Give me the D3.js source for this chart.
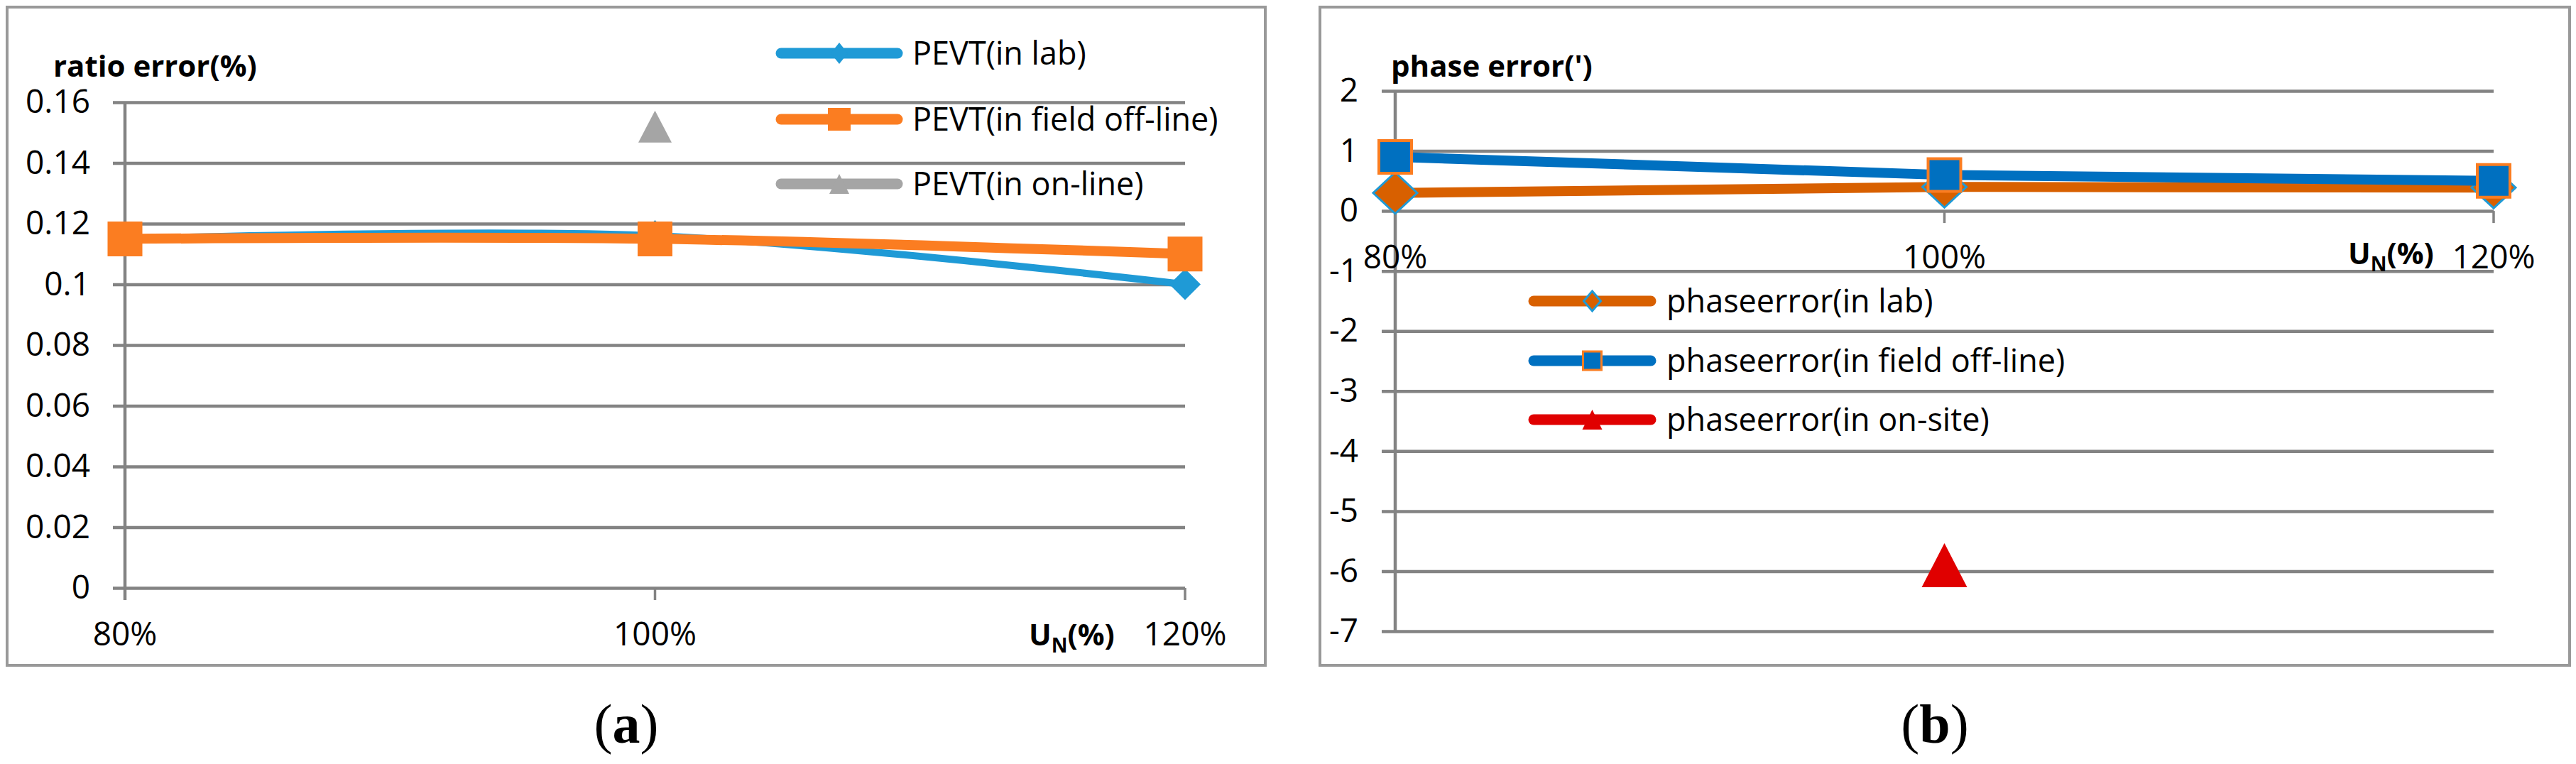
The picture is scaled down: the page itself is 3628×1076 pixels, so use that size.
<!DOCTYPE html>
<html>
<head>
<meta charset="utf-8">
<script src="https://cdn.jsdelivr.net/npm/d3@7"></script>
<style>
  body { margin: 0; background: #fff; }
  text { font-family: "Open Sans", sans-serif; fill: #000; }
</style>
</head>
<body>
<svg id="chart" width="3628" height="1076"></svg>
<script>
// values
var categories = ["80%", "100%", "120%"];

var ratioTicks = [0, 0.02, 0.04, 0.06, 0.08, 0.1, 0.12, 0.14, 0.16];
var ratioLab = [0.115, 0.116, 0.100];
var ratioFieldOffline = [0.115, 0.115, 0.110];
var ratioOnline = [null, 0.152, null];
var ratioNames = ["PEVT(in lab)", "PEVT(in field off-line)", "PEVT(in on-line)"];

var phaseTicks = [2, 1, 0, -1, -2, -3, -4, -5, -6, -7];
var phaseLab = [0.3, 0.4, 0.39];
var phaseFieldOffline = [0.9, 0.6, 0.5];
var phaseOnsite = [null, -5.9, null];
var phaseNames = ["phaseerror(in lab)", "phaseerror(in field off-line)", "phaseerror(in on-site)"];

var svg = d3.select("#chart");
var gridColor = "#838383";

// marker paths, centred on (cx, cy)
function markerPath(type, cx, cy, w, h) {
  if (type == "diamond") {
    return "M" + cx + "," + (cy - h / 2) + "L" + (cx + w / 2) + "," + cy +
      "L" + cx + "," + (cy + h / 2) + "L" + (cx - w / 2) + "," + cy + "Z";
  }
  if (type == "triangle") {
    return "M" + cx + "," + (cy - h / 2) + "L" + (cx + w / 2) + "," + (cy + h / 2) +
      "L" + (cx - w / 2) + "," + (cy + h / 2) + "Z";
  }
  return "M" + (cx - w / 2) + "," + (cy - h / 2) + "h" + w + "v" + h + "h" + (-w) + "Z";
}

function drawPanel(p) {
  var g = svg.append("g");

  // outer frame
  g.append("rect")
    .attr("x", p.frame[0]).attr("y", p.frame[1])
    .attr("width", p.frame[2] - p.frame[0]).attr("height", p.frame[3] - p.frame[1])
    .attr("fill", "none").attr("stroke", "#999").attr("stroke-width", 4);

  var x = d3.scalePoint().domain(categories).range(p.xRange);
  var y = d3.scaleLinear().domain(p.yDomain).range(p.yRange);

  // horizontal gridlines + tick labels
  var yAxis = d3.axisLeft(y)
    .tickValues(p.ticks)
    .tickFormat(function(d) { return String(d); })
    .tickSize(-(p.xRange[1] - p.gridStart))
    .tickPadding(p.gridStart - p.labelRight);
  var ga = g.append("g")
    .attr("transform", "translate(" + p.gridStart + ",0)")
    .call(yAxis);
  ga.select(".domain").remove();
  ga.selectAll(".tick line").attr("stroke", gridColor).attr("stroke-width", 4.5);
  ga.selectAll(".tick text")
    .attr("x", -(p.gridStart - p.labelRight))
    .attr("font-size", 46).attr("font-family", "Open Sans").attr("fill", "#000");

  // vertical axis line
  var y0 = y(0);
  g.append("line")
    .attr("x1", p.xRange[0]).attr("x2", p.xRange[0])
    .attr("y1", y(p.yDomain[1])).attr("y2", Math.max(y(p.yDomain[0]), y0 + 17))
    .attr("stroke", gridColor).attr("stroke-width", 4.5);

  // category ticks on the zero line
  g.selectAll(".xtick").data(categories.slice(1)).enter().append("line")
    .attr("x1", function(d) { return x(d); }).attr("x2", function(d) { return x(d); })
    .attr("y1", y0).attr("y2", y0 + 17)
    .attr("stroke", gridColor).attr("stroke-width", 3.5);

  // category labels
  g.selectAll(".xlab").data(categories).enter().append("text")
    .attr("x", function(d) { return x(d); })
    .attr("y", y0 + 81)
    .attr("text-anchor", "middle")
    .attr("font-size", 46)
    .text(function(d) { return d; });

  // x axis title U_N(%)
  var ut = g.append("text")
    .attr("x", p.unX).attr("y", y0 + 81 + p.unDy)
    .attr("font-size", 42).attr("font-weight", "bold");
  ut.append("tspan").text("U");
  ut.append("tspan").attr("font-size", 28).attr("dy", 10).text("N");
  ut.append("tspan").attr("dy", -10).text("(%)");

  // y axis title
  g.append("text")
    .attr("x", p.titleX).attr("y", 108)
    .attr("font-size", 42).attr("font-weight", "bold")
    .text(p.title);

  // series
  p.series.forEach(function(s) {
    var pts = [];
    s.values.forEach(function(v, i) {
      if (v !== null) pts.push([x(categories[i]), y(v)]);
    });
    if (pts.length > 1) {
      g.append("path")
        .attr("d", d3.line().curve(p.curve)(pts))
        .attr("fill", "none").attr("stroke", s.color)
        .attr("stroke-width", s.width).attr("stroke-linejoin", "round");
    }
    pts.forEach(function(pt) {
      g.append("path")
        .attr("d", markerPath(s.marker, pt[0], pt[1], s.mw, s.mh))
        .attr("fill", s.fill)
        .attr("stroke", s.mstroke || "none")
        .attr("stroke-width", s.msw || 0);
    });
  });

  // legend
  p.series.forEach(function(s, i) {
    var ly = p.legend.y[i];
    g.append("line")
      .attr("x1", p.legend.x1).attr("x2", p.legend.x2)
      .attr("y1", ly).attr("y2", ly)
      .attr("stroke", s.color).attr("stroke-width", 15)
      .attr("stroke-linecap", "round");
    g.append("path")
      .attr("d", markerPath(s.marker, (p.legend.x1 + p.legend.x2) / 2, ly, s.lw, s.lh))
      .attr("fill", s.fill)
      .attr("stroke", s.mstroke || "none")
      .attr("stroke-width", s.mstroke ? 3 : 0);
    g.append("text")
      .attr("x", p.legend.textX).attr("y", ly)
      .attr("dy", "0.35em")
      .attr("font-size", 45)
      .text(s.name);
  });

  // caption
  var cap = svg.append("text")
    .attr("x", p.captionX).attr("y", 1046)
    .attr("text-anchor", "middle")
    .attr("font-size", 78)
    .style("font-family", "'Liberation Serif', serif");
  cap.append("tspan").text("(");
  cap.append("tspan").attr("font-weight", "bold").text(p.caption);
  cap.append("tspan").text(")");
}

drawPanel({
  frame: [10, 10, 1782, 937],
  xRange: [176, 1669],
  yDomain: [0, 0.16],
  yRange: [828, 144],
  ticks: ratioTicks,
  gridStart: 159,
  labelRight: 127,
  title: "ratio error(%)",
  titleX: 75,
  unX: 1449,
  unDy: 0,
  curve: d3.curveCatmullRom,
  caption: "a",
  captionX: 882,
  legend: { x1: 1100, x2: 1264, textX: 1285, y: [75, 168, 259] },
  series: [
    { name: ratioNames[0], values: ratioLab, color: "#1f9ad6", width: 10,
      marker: "diamond", fill: "#1f9ad6", mw: 44, mh: 44, lw: 24, lh: 30 },
    { name: ratioNames[1], values: ratioFieldOffline, color: "#fb7d21", width: 14,
      marker: "square", fill: "#fb7d21", mw: 49, mh: 49, lw: 32, lh: 32 },
    { name: ratioNames[2], values: ratioOnline, color: "#a5a5a5", width: 12,
      marker: "triangle", fill: "#a5a5a5", mw: 47, mh: 45, lw: 28, lh: 28 }
  ]
});

drawPanel({
  frame: [1859, 10, 3619, 937],
  xRange: [1965, 3512],
  yDomain: [-7, 2],
  yRange: [889, 128],
  ticks: phaseTicks,
  gridStart: 1946,
  labelRight: 1913,
  title: "phase error(')",
  titleX: 1959,
  unX: 3307,
  unDy: -6,
  curve: d3.curveLinear,
  caption: "b",
  captionX: 2725,
  legend: { x1: 2160, x2: 2325, textX: 2347, y: [424, 508, 591] },
  series: [
    { name: phaseNames[0], values: phaseLab, color: "#d86000", width: 14,
      marker: "diamond", fill: "#d86000", mstroke: "#1f9ad6", msw: 3,
      mw: 62, mh: 58, lw: 24, lh: 28 },
    { name: phaseNames[1], values: phaseFieldOffline, color: "#0070c0", width: 14,
      marker: "square", fill: "#0070c0", mstroke: "#fb7d21", msw: 4,
      mw: 46, mh: 46, lw: 26, lh: 26 },
    { name: phaseNames[2], values: phaseOnsite, color: "#e00000", width: 14,
      marker: "triangle", fill: "#e00000", mw: 64, mh: 62, lw: 28, lh: 28 }
  ]
});
</script>
</body>
</html>
